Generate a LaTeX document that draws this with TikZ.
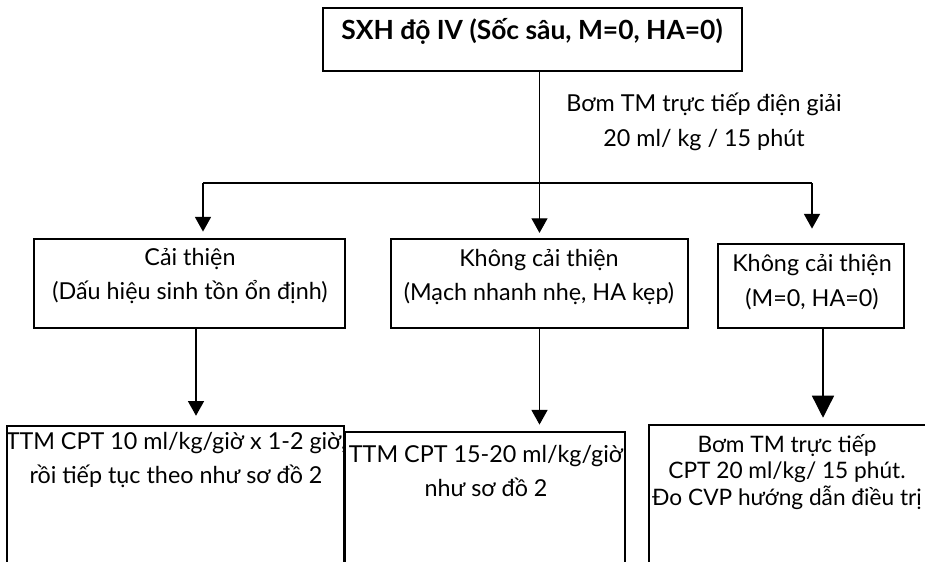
\documentclass[tikz,border=0pt]{standalone}
\usepackage{fontspec}
\setmainfont{Lato}
\usetikzlibrary{arrows.meta,calc,fit,positioning}

\begin{document}
\begin{tikzpicture}[x=0.75pt,y=-0.75pt,
  box/.style={draw,line width=1.1pt,inner sep=0pt},
  txt/.style={align=center,inner sep=0pt,font=\fontsize{17.5}{26}\selectfont},
  arr/.style={line width=1pt,-{Triangle[width=12pt,length=11pt]}},
  bigarr/.style={line width=1pt,-{Triangle[width=16.5pt,length=16.5pt]}}]
\useasboundingbox (0,0) rectangle (925,561);
\clip (0,0) rectangle (925,561);
% boxes
\node[box,line width=1.5pt,fit={(323,8) (742,71)}] (top) {};
\node[box,fit={(34,239) (345,328)}] (b1) {};
\node[box,fit={(391,239) (688,328)}] (b2) {};
\node[box,fit={(718,244) (904,328)}] (b3) {};
\node[box,fit={(7,426) (344,590)}] (c1) {};
\node[box,fit={(345,432) (625,590)}] (c2) {};
\node[box,fit={(649,425) (935,590)}] (c3) {};
% texts
\node[txt,font=\fontsize{19.8}{26}\selectfont\bfseries] (ttop) at (532,31) {SXH độ IV (Sốc sâu, M=0, HA=0)};
\node[txt] (tlab) at (704,122) {Bơm TM trực tiếp điện giải\\20 ml/ kg / 15 phút};
\node[txt] (tb1) at (190,276) {Cải thiện\\(Dấu hiệu sinh tồn ổn định)};
\node[txt] (tb2) at (539,277) {Không cải thiện\\(Mạch nhanh nhẹ, HA kẹp)};
\node[txt] (tb3) at (812,282) {Không cải thiện\\(M=0, HA=0)};
\node[txt] (tc1) at (176,460) {TTM CPT 10 ml/kg/giờ x 1-2 giờ,\\rồi tiếp tục theo như sơ đồ 2};
\node[txt] (tc2) at (486,471) {TTM CPT 15-20 ml/kg/giờ\\như sơ đồ 2};
\node[txt,font=\fontsize{17}{20}\selectfont] (tc3) at (787,472) {Bơm TM trực tiếp\\CPT 20 ml/kg/ 15 phút.\\Đo CVP hướng dẫn điều trị};
% connectors
\coordinate (jl) at (203,183);
\coordinate (jr) at (812,183);
\draw[arr,shorten >=4pt] (top.south -| b2.north) -- (b2.north);
\draw[line width=1pt] (jl) -- (jr);
\draw[arr,shorten >=5pt] (jl) -- (jl |- b1.north);
\draw[arr,shorten >=11pt] (jr) -- (jr |- b3.north);
\draw[arr] ($(b1.south)+(6.5,0)$) -- +(0,87);
\draw[arr,shorten >=5pt] (b2.south) -- (b2.south |- c2.north);
\draw[bigarr] ($(b3.south)+(12,0)$) -- +(0,89);
\end{tikzpicture}
\end{document}
